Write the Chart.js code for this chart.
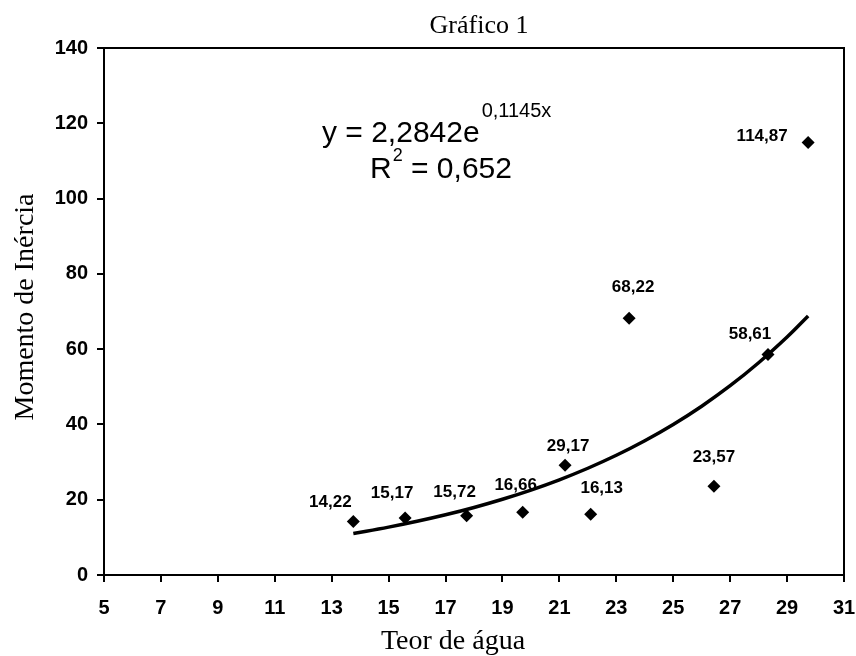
<!DOCTYPE html>
<html><head><meta charset="utf-8">
<script src="https://cdn.jsdelivr.net/npm/chart.js@4.4.0/dist/chart.umd.min.js"></script>
<style>html,body{margin:0;padding:0;background:#fff}#wrap{width:856px;height:656px}</style>
</head><body><div id="wrap"><canvas id="c" width="856" height="656"></canvas></div>
<script>
// ---- data ----
const teorAgua = [13.76, 15.58, 17.74, 19.71, 21.2, 22.1, 23.45, 26.43, 28.33, 29.74];
const momentoInercia = [14.22, 15.17, 15.72, 16.66, 29.17, 16.13, 68.22, 23.57, 58.61, 114.87];
const pointLabels = ['14,22', '15,17', '15,72', '16,66', '29,17', '16,13', '68,22', '23,57', '58,61', '114,87'];
const trendX = [13.76, 15, 16, 17, 18, 19, 20, 21, 22, 23, 24, 25, 26, 27, 28, 29, 29.74];
const trendY = [11.04, 12.72, 14.27, 16.0, 17.94, 20.12, 22.56, 25.29, 28.36, 31.8, 35.66, 39.99, 44.84, 50.28, 56.38, 63.21, 68.8];
const xTicks = [5, 7, 9, 11, 13, 15, 17, 19, 21, 23, 25, 27, 29, 31];
const yTicks = [0, 20, 40, 60, 80, 100, 120, 140];
const chartTitle = 'Gráfico 1';
const xTitle = 'Teor de água';
const yTitle = 'Momento de Inércia';
const eqMain = 'y = 2,2842e';
const eqExp = '0,1145x';
const r2Main = 'R';
const r2Sup = '2';
const r2Rest = ' = 0,652';

// label placement (style, not data)
const labelOffsets = [[-23,-19],[-13,-25],[-12,-24],[-7,-27],[3,-19],[11,-26],[4,-31],[0,-29],[-18,-20],[-46,-6]];

const SANS = '"Liberation Sans", Arial, sans-serif';
const SERIF = '"Liberation Serif", "Times New Roman", serif';

const decor = {
  id: 'decor',
  afterDatasetsDraw(chart) {
    const ctx = chart.ctx;
    const a = chart.chartArea;
    ctx.save();
    // frame
    ctx.strokeStyle = '#000';
    ctx.lineWidth = 2;
    ctx.strokeRect(a.left, a.top, a.right - a.left, a.bottom - a.top);
    // point labels
    const meta = chart.getDatasetMeta(1);
    ctx.fillStyle = '#000';
    ctx.font = 'bold 17px ' + SANS;
    ctx.textAlign = 'center';
    ctx.textBaseline = 'middle';
    meta.data.forEach((el, i) => {
      const o = labelOffsets[i];
      ctx.fillText(pointLabels[i], el.x + o[0], el.y + o[1]);
    });
    // title
    ctx.font = '26px ' + SERIF;
    ctx.textBaseline = 'alphabetic';
    ctx.fillText(chartTitle, 479, 33);
    // x title
    ctx.font = '28px ' + SERIF;
    ctx.fillText(xTitle, 453, 649);
    // y title
    ctx.save();
    ctx.translate(33, 307);
    ctx.rotate(-Math.PI / 2);
    ctx.fillText(yTitle, 0, 0);
    ctx.restore();
    // equation
    ctx.textAlign = 'left';
    ctx.font = '30px ' + SANS;
    ctx.fillText(eqMain, 322, 142);
    let w = ctx.measureText(eqMain).width;
    ctx.font = '20px ' + SANS;
    ctx.fillText(eqExp, 322 + w + 2, 117);
    ctx.font = '30px ' + SANS;
    ctx.fillText(r2Main, 370, 178);
    let w2 = ctx.measureText(r2Main).width;
    ctx.font = '18px ' + SANS;
    ctx.fillText(r2Sup, 370 + w2 + 1, 161);
    let w3 = ctx.measureText(r2Sup).width;
    ctx.font = '30px ' + SANS;
    ctx.fillText(r2Rest, 370 + w2 + w3 + 1, 178);
    ctx.restore();
  }
};

new Chart(document.getElementById('c'), {
  type: 'scatter',
  data: {
    datasets: [
      {
        type: 'line',
        data: trendX.map((x, i) => ({x: x, y: trendY[i]})),
        borderColor: '#000',
        borderWidth: 3.5,
        pointRadius: 0,
        tension: 0.4,
        fill: false
      },
      {
        data: teorAgua.map((x, i) => ({x: x, y: momentoInercia[i]})),
        pointStyle: 'rectRot',
        pointRadius: 6.5,
        backgroundColor: '#000',
        borderColor: '#000',
        borderWidth: 0
      }
    ]
  },
  options: {
    responsive: false,
    devicePixelRatio: 1,
    animation: false,
    layout: {padding: {top: 48, right: 0, left: 0, bottom: 0}},
    plugins: {legend: {display: false}, tooltip: {enabled: false}, title: {display: false}},
    scales: {
      x: {
        type: 'linear', min: 5, max: 31,
        afterBuildTicks: s => { s.ticks = xTicks.map(v => ({value: v})); },
        afterFit: s => { s.height = 81; s.paddingRight = 12; },
        grid: {display: true, drawOnChartArea: false, drawTicks: true, tickLength: 7, color: '#000', lineWidth: 2},
        border: {display: true, color: '#000', width: 2},
        ticks: {color: '#000', font: {family: SANS, size: 20, weight: 'bold'}, padding: 14, maxRotation: 0, autoSkip: false, callback: v => String(v)}
      },
      y: {
        type: 'linear', min: 0, max: 140,
        afterBuildTicks: s => { s.ticks = yTicks.map(v => ({value: v})); },
        afterFit: s => { s.width = 104; },
        grid: {display: true, drawOnChartArea: false, drawTicks: true, tickLength: 7, color: '#000', lineWidth: 2},
        border: {display: true, color: '#000', width: 2},
        ticks: {color: '#000', font: {family: SANS, size: 20, weight: 'bold'}, padding: 9, autoSkip: false, callback: v => String(v)}
      }
    }
  },
  plugins: [decor]
});
</script>
</body></html>
